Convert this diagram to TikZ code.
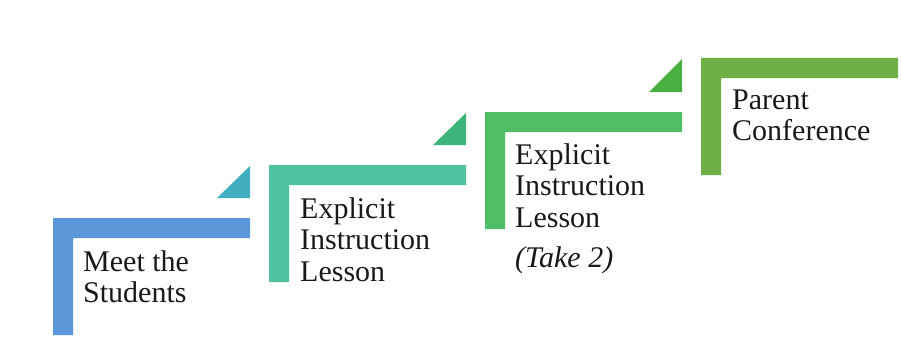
\documentclass[tikz,border=0pt]{standalone}
\usepackage{fontspec}
\setmainfont{Liberation Serif}
\definecolor{stepA}{HTML}{5A96D8}
\definecolor{triA}{HTML}{42AFC0}
\definecolor{stepB}{HTML}{4FC2A2}
\definecolor{triB}{HTML}{3DB47A}
\definecolor{stepC}{HTML}{50BE66}
\definecolor{triC}{HTML}{48B040}
\definecolor{stepD}{HTML}{6EAF46}
\begin{document}
\begin{tikzpicture}[x=1pt,y=-1pt,
  steptext/.style={anchor=base west, inner sep=0pt, align=left,
    font=\fontsize{30}{31.5}\selectfont, text=black!90}]
\useasboundingbox (0,0) rectangle (901,337);
\fill[white] (0,0) rectangle (901,337);
% L-shaped steps
\fill[stepA] (53,218) -- (250,218) -- (250,238) -- (73,238) -- (73,335) -- (53,335) -- cycle;
\fill[stepB] (269,165) -- (466,165) -- (466,185) -- (289,185) -- (289,282) -- (269,282) -- cycle;
\fill[stepC] (485,112) -- (682,112) -- (682,132) -- (505,132) -- (505,229) -- (485,229) -- cycle;
\fill[stepD] (701,58) -- (898,58) -- (898,78) -- (721,78) -- (721,175) -- (701,175) -- cycle;
% triangles
\fill[triA] (217,198) -- (250,198) -- (250,166) -- cycle;
\fill[triB] (433,145) -- (466,145) -- (466,113) -- cycle;
\fill[triC] (649,92) -- (682,92) -- (682,59) -- cycle;
% texts (anchor = baseline of the last line)
\node[steptext] (t1) at (83,302.5) {Meet the\\Students};
\node[steptext] (t2) at (300,281) {Explicit\\Instruction\\Lesson};
\node[steptext] (t3) at (515,267) {Explicit\\Instruction\\Lesson\\[8.5pt]\textit{(Take 2)}};
\node[steptext] (t4) at (732,140.5) {Parent\\Conference};
\end{tikzpicture}
\end{document}
